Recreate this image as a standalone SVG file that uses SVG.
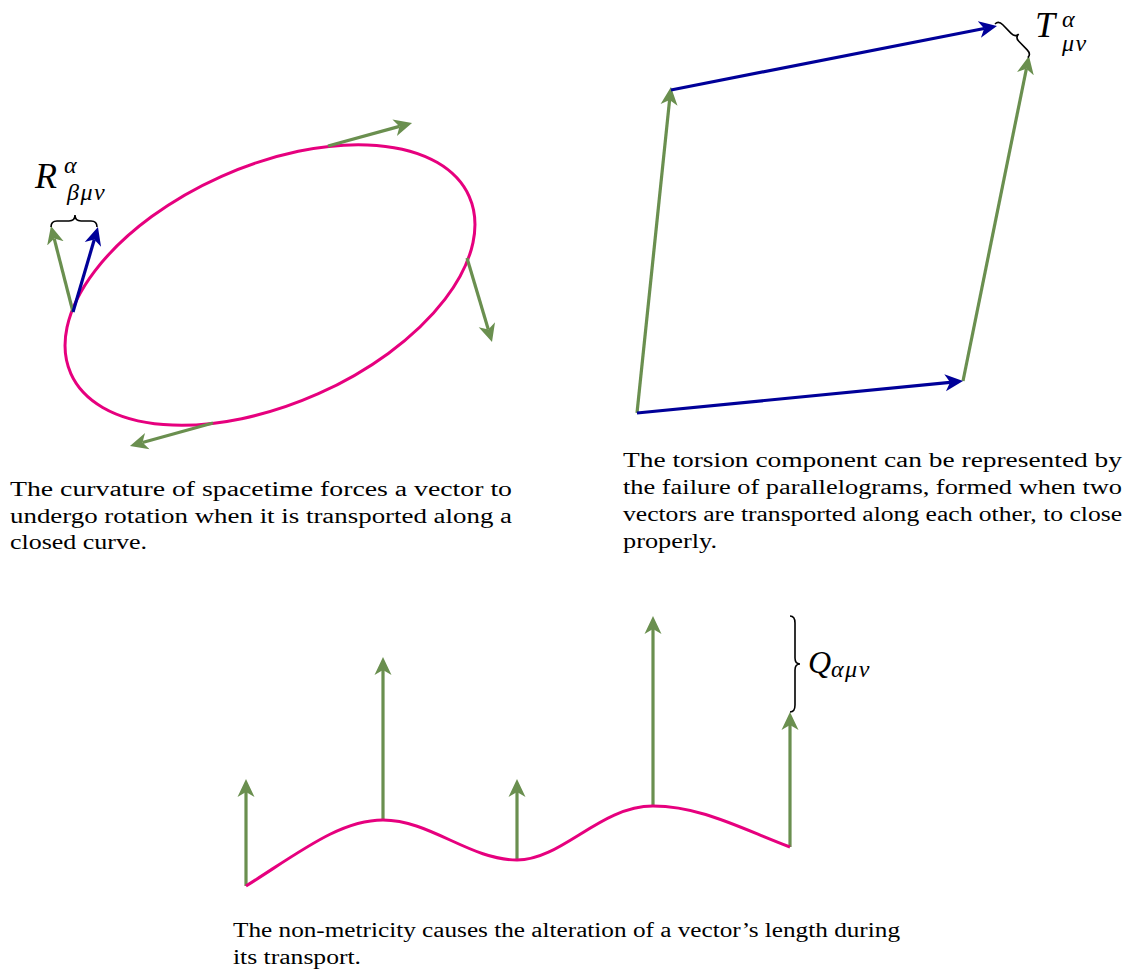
<svg xmlns="http://www.w3.org/2000/svg" width="1133" height="974" viewBox="0 0 1133 974">
<style>
.cap{font-family:"Liberation Serif",serif;font-size:20px;fill:#000}
.math{font-family:"Liberation Serif",serif;font-style:italic;fill:#000}
.curve{fill:none;stroke:#e6007e;stroke-width:3}
.g{stroke:#6a8f4f;stroke-width:3.2;fill:none;marker-end:url(#ag)}
.b{stroke:#000099;stroke-width:3.2;fill:none;marker-end:url(#ab)}
.brace{fill:none;stroke:#000;stroke-width:1.6}
</style>
<defs>
<marker id="ag" markerUnits="userSpaceOnUse" markerWidth="20" markerHeight="20" refX="5" refY="0" orient="auto" viewBox="0 -10 20 20">
<path d="M18,0 L0,-8.5 L5,0 L0,8.5 Z" fill="#6a8f4f"/>
</marker>
<marker id="ab" markerUnits="userSpaceOnUse" markerWidth="20" markerHeight="20" refX="5" refY="0" orient="auto" viewBox="0 -10 20 20">
<path d="M18,0 L0,-8.5 L5,0 L0,8.5 Z" fill="#000099"/>
</marker>
</defs>
<g id="curvature">
<ellipse class="curve" cx="270" cy="285" rx="218" ry="119" transform="rotate(-24 270 285)"/>
</g>
<g id="connectors">
<path class="g" d="M73,312 L54.2,238.6"/>
<path class="b" d="M73,312 L94.3,239.5"/>
<path class="g" d="M328,146 L399.5,126.4"/>
<path class="g" d="M467,258 L488.3,329.5"/>
<path class="g" d="M213,423 L142.5,442.5"/>
<path class="g" d="M637,413 L669.6,99.9"/>
<path class="b" d="M671,90 L984.2,28.5"/>
<path class="g" d="M963,381 L1026.4,68.7"/>
<path class="b" d="M637,413 L950.1,382.3"/>
<path class="g" d="M246,886 L246,792"/>
<path class="g" d="M383,820 L383,670"/>
<path class="g" d="M517,860 L517,792"/>
<path class="g" d="M653,806 L653,629"/>
<path class="g" d="M790,847 L790,725"/>
</g>
<g id="wave">
<path class="curve" d="M246,886 C300,852 340,820 383,820 C430,820 470,860 517,860 C562,860 600,806 653,806 C700,806 740,828 790,847"/>
</g>
<g id="label-R">
<path class="brace" d="M51,227 Q51,221 57,221 L69,221 Q75,221 75,215 Q75,221 81,221 L91,221 Q97,221 97,227"/>
<text class="math" x="35" y="188" font-size="36">R</text>
<text class="math" x="64" y="173" font-size="24">α</text>
<text class="math" x="67" y="200" font-size="24" letter-spacing="1.5">βμν</text>
</g>
<g id="label-T">
<path class="brace" transform="translate(995,24) rotate(45.8)" d="M0,0 Q0,-5 6,-5 L18,-5 Q23.7,-5 23.7,-10 Q23.7,-5 29,-5 L41,-5 Q47,-5 47,0"/>
<text class="math" x="1035" y="37" font-size="36">T</text>
<text class="math" x="1062" y="27" font-size="24">α</text>
<text class="math" x="1062" y="51" font-size="24" letter-spacing="1.5">μν</text>
</g>
<g id="label-Q">
<path class="brace" transform="translate(790,616) rotate(90)" d="M0,0 Q0,-5 7,-5 L42,-5 Q48,-5 48,-10 Q48,-5 54,-5 L89,-5 Q96,-5 96,0"/>
<text class="math" x="808" y="673" font-size="32">Q</text>
<text class="math" x="831" y="677" font-size="24" letter-spacing="1.5">αμν</text>
</g>
<g id="caption-left">
<text class="cap" x="10" y="496" textLength="502" lengthAdjust="spacingAndGlyphs">The curvature of spacetime forces a vector to</text>
<text class="cap" x="10" y="523" textLength="502" lengthAdjust="spacingAndGlyphs">undergo rotation when it is transported along a</text>
<text class="cap" x="10" y="549" textLength="137" lengthAdjust="spacingAndGlyphs">closed curve.</text>
</g>
<g id="caption-right">
<text class="cap" x="623" y="467" textLength="499" lengthAdjust="spacingAndGlyphs">The torsion component can be represented by</text>
<text class="cap" x="623" y="494" textLength="499" lengthAdjust="spacingAndGlyphs">the failure of parallelograms, formed when two</text>
<text class="cap" x="623" y="521" textLength="499" lengthAdjust="spacingAndGlyphs">vectors are transported along each other, to close</text>
<text class="cap" x="623" y="548" textLength="94" lengthAdjust="spacingAndGlyphs">properly.</text>
</g>
<g id="caption-bottom">
<text class="cap" x="233" y="937" textLength="667" lengthAdjust="spacingAndGlyphs">The non-metricity causes the alteration of a vector’s length during</text>
<text class="cap" x="233" y="964" textLength="128" lengthAdjust="spacingAndGlyphs">its transport.</text>
</g>
</svg>
